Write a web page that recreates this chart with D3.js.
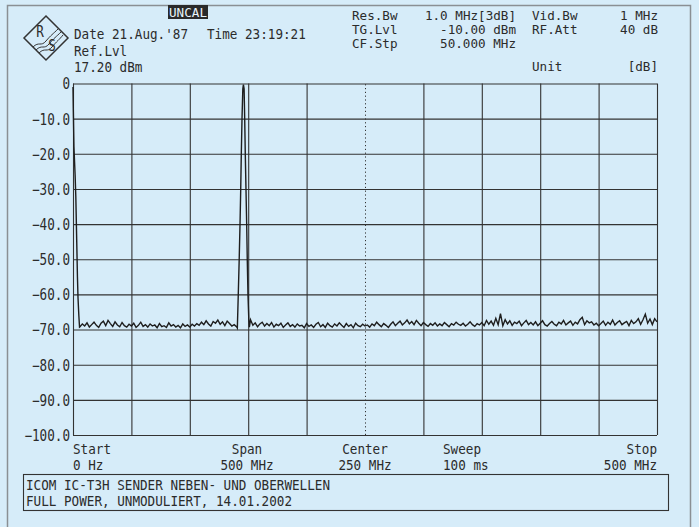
<!DOCTYPE html>
<html>
<head>
<meta charset="utf-8">
<script src="https://cdn.jsdelivr.net/npm/d3@7"></script>
<style>
  html, body { margin: 0; padding: 0; background: #d6ecf9; }
  svg { display: block; }
  .lbl { font-family: "DejaVu Sans Mono", "Liberation Mono", monospace; fill: #2b2b2b; }
</style>
</head>
<body>
<svg id="sa" width="699" height="527"></svg>
<script>
const levelTicks = [0, -10, -20, -30, -40, -50, -60, -70, -80, -90, -100];
const freqTicks = [0, 50, 100, 150, 200, 250, 300, 350, 400, 450, 500];

// LO feedthrough at 0 Hz  [MHz, dB]
const startEdge = [
  [0, -1], [0.3, -8], [0.8, -18], [1.8, -26], [2.4, -32], [3.2, -45],
  [3.8, -55], [4.3, -61], [5.0, -66], [5.6, -69.3]
];

// carrier around 146 MHz  [MHz, dB]
const carrier = [
  [140.7, -69.6], [141.5, -60], [142.3, -50], [143.0, -40], [143.6, -30],
  [144.1, -20], [144.7, -10], [145.4, -1.5], [145.9, -0.3], [146.5, -1.5],
  [147.0, -10], [147.5, -20], [148.1, -30], [148.7, -40], [149.2, -50],
  [149.8, -60], [150.5, -67], [151.0, -69.3]
];

// noise floor, 2 MHz steps
const noiseLowStart = 6;
const noiseLow = [
  -69.2, -68.4, -69.0, -68.1, -69.3, -68.6, -67.9, -68.8, -69.4, -68.2,
  -67.6, -68.9, -67.4, -68.3, -69.1, -67.8, -68.7, -69.2, -68.0, -68.9,
  -69.3, -68.5, -69.0, -68.2, -69.4, -68.8, -67.9, -69.1, -68.6, -69.3,
  -68.4, -69.0, -68.7, -69.5, -68.3, -69.2, -68.9, -69.4, -68.1, -69.0,
  -68.6, -69.3, -68.8, -69.5, -68.4, -69.1, -68.7, -69.3, -68.5, -69.0,
  -68.3, -68.8, -67.9, -68.6, -67.5, -68.4, -69.0, -67.7, -68.2, -67.3,
  -68.5, -67.8, -68.9, -67.6, -68.3, -69.0, -68.6, -69.2
];
const noiseHighStart = 152;
const noiseHigh = [
  -67.2, -68.8, -68.1, -69.2, -68.4, -67.9, -69.0, -68.3, -68.9, -68.0,
  -69.3, -68.5, -68.9, -68.2, -69.4, -68.7, -68.1, -69.1, -68.6, -69.3,
  -68.4, -69.0, -68.8, -69.5, -68.3, -69.1, -68.7, -69.4, -68.5, -68.0,
  -69.2, -68.6, -69.4, -68.2, -68.9, -69.3, -68.4, -69.0, -68.1, -68.8,
  -69.4, -68.3, -69.1, -68.6, -69.5, -68.2, -68.9, -69.2, -68.5, -69.0,
  -68.7, -69.3, -68.4, -68.9, -67.9, -68.6, -69.2, -68.3, -68.8, -69.4,
  -68.5, -67.8, -68.9, -68.2, -67.6, -68.7, -68.1, -67.3, -68.4, -67.7,
  -68.6, -67.4, -68.2, -68.9, -68.0, -68.6, -69.1, -68.3, -68.8, -68.1,
  -69.0, -68.4, -68.9, -68.0, -68.6, -69.2, -68.3, -68.7, -67.9, -68.5,
  -68.8, -68.2, -69.0, -68.5, -67.8, -68.6, -69.1, -68.3, -68.7, -68.0,
  -68.9, -67.4, -68.5, -67.6, -68.8, -66.8, -68.6, -65.5, -68.9, -67.2,
  -68.4, -67.5, -68.8, -67.9, -68.3, -67.6, -68.9, -68.1, -67.4, -68.6,
  -68.0, -68.7, -67.8, -68.9, -68.2, -67.5, -68.6, -69.0, -68.3, -67.7,
  -68.5, -68.9, -67.9, -68.4, -67.4, -68.7, -68.1, -67.6, -68.8, -67.9,
  -68.4, -67.2, -66.5, -68.6, -67.5, -68.1, -67.8, -68.7, -68.2, -68.9,
  -68.3, -67.6, -68.8, -67.9, -68.5, -67.3, -68.7, -68.0, -67.5, -68.6,
  -68.1, -67.7, -68.9, -67.4, -68.3, -67.8, -66.9, -68.5, -67.2, -65.6,
  -68.2, -67.0, -68.6, -66.9, -67.8
];

const PITCH = 7.6; // character pitch of the plotter font
const plot = { left: 73, top: 83.5, right: 657, bottom: 435 };
const ink = "#333";

const svg = d3.select("#sa");

const x = d3.scaleLinear().domain([0, 500]).range([plot.left, plot.right]);
const y = d3.scaleLinear().domain([-100, 0]).range([plot.bottom, plot.top]);

const squeeze = (size) => PITCH / (0.602 * size);

function label(g, str, px, py, anchor = "start", size = 14) {
  return g.append("text")
    .attr("class", "lbl")
    .attr("font-size", size)
    .attr("text-anchor", anchor)
    .attr("dy", "0.36em")
    .attr("transform", `translate(${px},${py}) scale(${squeeze(size)},1)`)
    .text(str);
}

// outer frame
svg.append("path")
  .attr("d", "M7.5,527V5.5H690.5V527")
  .attr("fill", "none")
  .attr("stroke", "#8a8f94")
  .attr("stroke-width", 1.5);

// grid
const gridY = svg.append("g")
  .attr("class", "axis axis--y")
  .attr("transform", `translate(${plot.left},0)`)
  .call(d3.axisLeft(y)
    .tickValues(levelTicks)
    .tickSize(-(plot.right - plot.left))
    .tickFormat((d) => (d === 0 ? "0" : d3.format(".1f")(d))));
gridY.select(".domain").remove();
gridY.selectAll("line").attr("stroke", ink).attr("stroke-width", 1.1);
gridY.selectAll("text")
  .attr("class", "lbl")
  .attr("font-size", 15)
  .attr("x", 0)
  .attr("dy", "0.36em")
  .attr("transform", `translate(-3,0) scale(${squeeze(15)},1)`);

const gridX = svg.append("g")
  .attr("class", "axis axis--x")
  .attr("transform", `translate(0,${plot.bottom})`)
  .call(d3.axisBottom(x)
    .tickValues(freqTicks)
    .tickSize(-(plot.bottom - plot.top))
    .tickFormat(""));
gridX.select(".domain").remove();
gridX.selectAll("line")
  .attr("stroke", ink)
  .attr("stroke-width", (d) => (d === 250 ? 1 : 1.1))
  .attr("stroke-dasharray", (d) => (d === 250 ? "1.2,2.6" : null));

// trace
const trace = []
  .concat(startEdge)
  .concat(noiseLow.map((v, i) => [noiseLowStart + i * 2, v]))
  .concat(carrier)
  .concat(noiseHigh.map((v, i) => [noiseHighStart + i * 2, v]));

svg.append("path")
  .datum(trace)
  .attr("fill", "none")
  .attr("stroke", "#1e1e1e")
  .attr("stroke-width", 1.4)
  .attr("stroke-linejoin", "miter")
  .attr("d", d3.line().x((d) => x(d[0])).y((d) => y(d[1])));

// header
const head = svg.append("g");
head.append("rect")
  .attr("x", 168).attr("y", 5).attr("width", 40).attr("height", 14)
  .attr("fill", "#2a2a2a");
label(head, "UNCAL", 188, 12, "middle", 13).style("fill", "#e8f4fb");

label(head, "Date 21.Aug.'87", 74, 34);
label(head, "Time 23:19:21", 207, 34);
label(head, "Ref.Lvl", 74, 50.5);
label(head, "17.20 dBm", 74, 66.5);

label(head, "Res.Bw", 352, 16, "start", 12);
label(head, "TG.Lvl", 352, 30, "start", 12);
label(head, "CF.Stp", 352, 44, "start", 12);
label(head, "1.0 MHz[3dB]", 516, 16, "end", 12);
label(head, "-10.00 dBm", 516, 30, "end", 12);
label(head, "50.000 MHz", 516, 44, "end", 12);
label(head, "Vid.Bw", 532, 16, "start", 12);
label(head, "RF.Att", 532, 30, "start", 12);
label(head, "1 MHz", 658, 16, "end", 12);
label(head, "40 dB", 658, 30, "end", 12);
label(head, "Unit", 532, 66, "start", 13);
label(head, "[dB]", 658, 66, "end", 13);

// logo
const logo = svg.append("g").attr("transform", "translate(46,38)");
logo.append("path")
  .attr("d", "M0,-22L22,0L0,22L-22,0Z")
  .attr("fill", "none").attr("stroke", ink).attr("stroke-width", 1.5);
["M-13,9C-7,3 -5,9 0,3S7,-4 12,-9", "M-10,12C-4,6 -2,12 3,6S10,-1 15,-6", "M-7,15C-1,9 1,15 6,9S13,2 17,-3"]
  .forEach((d) => logo.append("path").attr("d", d)
    .attr("fill", "none").attr("stroke", ink).attr("stroke-width", 1));
label(logo, "R", -6, -6, "middle", 15);
label(logo, "S", 6, 8, "middle", 15);

// footer
const foot = svg.append("g");
label(foot, "Start", 73, 448.5);
label(foot, "0 Hz", 73, 465);
label(foot, "Span", 247, 448.5, "middle");
label(foot, "500 MHz", 247, 465, "middle");
label(foot, "Center", 365, 448.5, "middle");
label(foot, "250 MHz", 365, 465, "middle");
label(foot, "Sweep", 443, 448.5);
label(foot, "100 ms", 443, 465);
label(foot, "Stop", 657, 448.5, "end");
label(foot, "500 MHz", 657, 465, "end");

foot.append("rect")
  .attr("x", 23.5).attr("y", 474.5).attr("width", 645).attr("height", 36)
  .attr("fill", "none").attr("stroke", ink).attr("stroke-width", 1.1);
label(foot, "ICOM IC-T3H SENDER NEBEN- UND OBERWELLEN", 26, 484.5);
label(foot, "FULL POWER, UNMODULIERT, 14.01.2002", 26, 501);
</script>
</body>
</html>
